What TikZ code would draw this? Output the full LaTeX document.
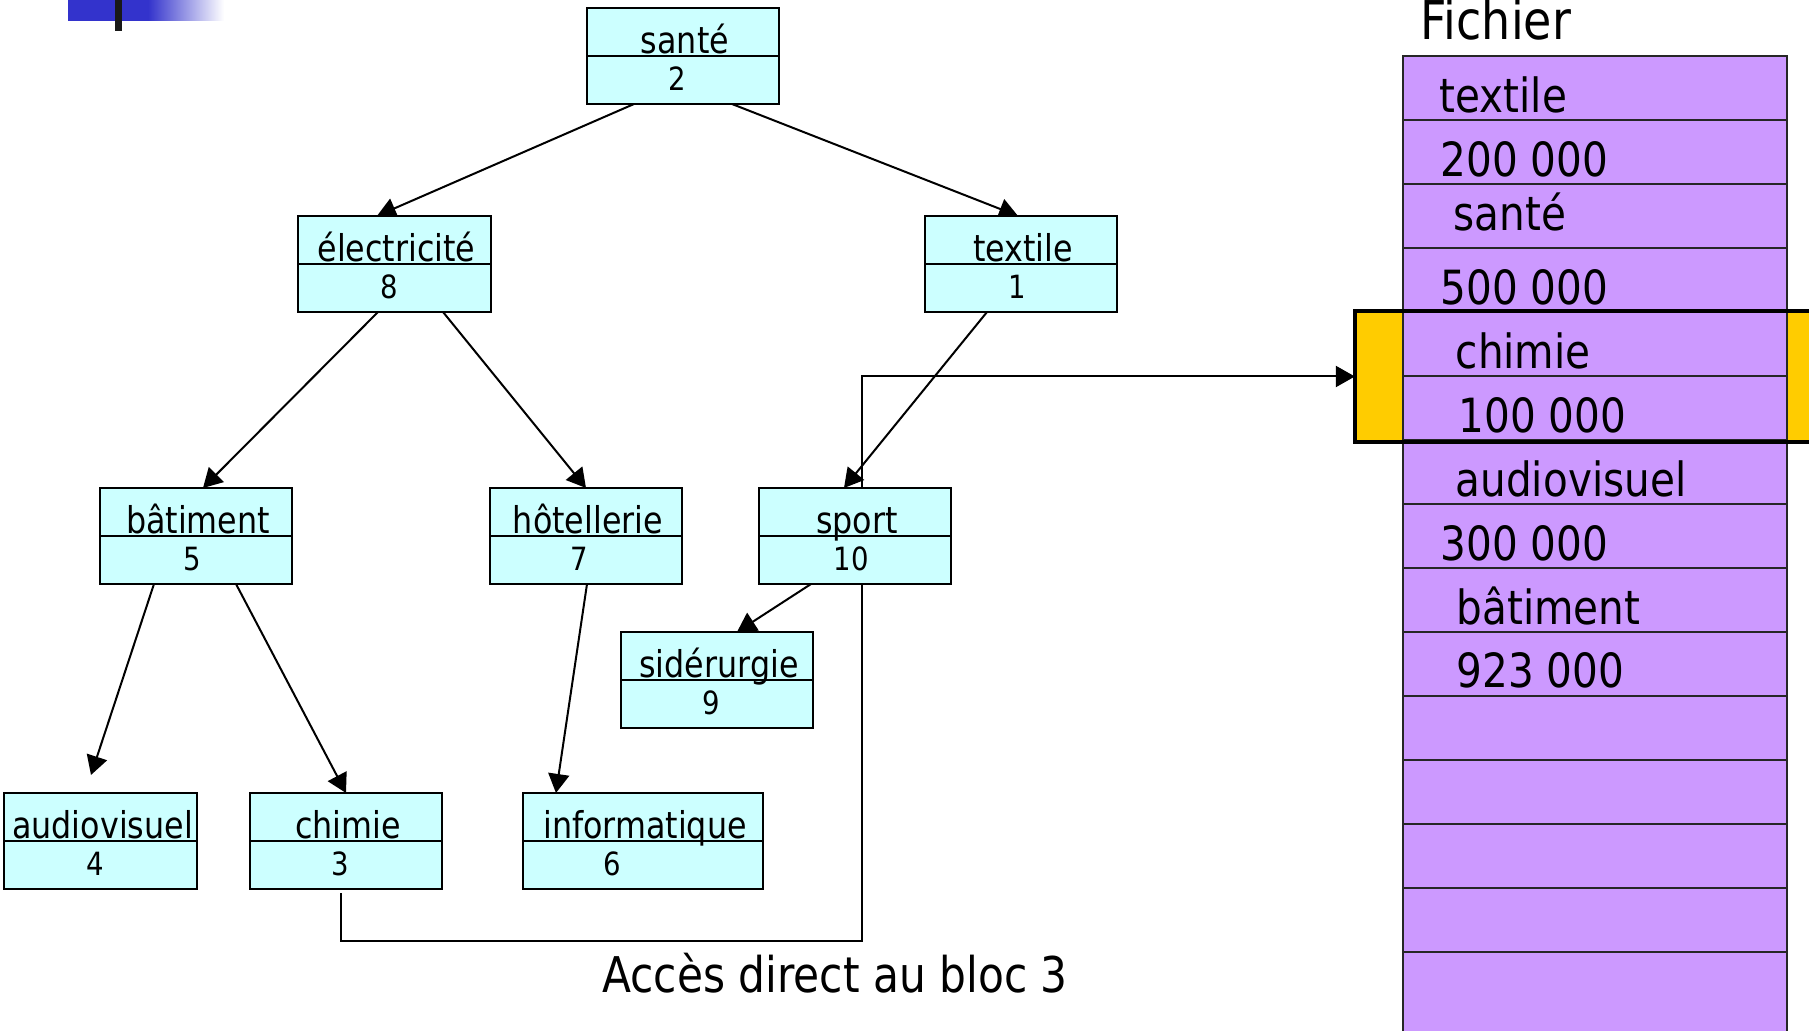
\documentclass[tikz,border=0pt]{standalone}
\usepackage{fontspec}
\setmainfont{DejaVu Sans}[FakeStretch=0.86]
\usetikzlibrary{arrows.meta,calc}
\definecolor{boxcyan}{HTML}{CCFFFF}
\definecolor{filepurple}{HTML}{CC99FF}
\definecolor{hlyellow}{HTML}{FFCC00}
\definecolor{slideblue}{HTML}{3333CC}
\pgfdeclarelayer{bg}
\pgfsetlayers{bg,main}
\tikzset{
  tbox/.style={draw=black, fill=boxcyan, line width=0.02cm, minimum width=1.92cm,
    minimum height=0.96cm, inner sep=0pt, outer sep=0pt},
  lbl/.style={font=\fontsize{10.5pt}{12pt}\selectfont, inner sep=0pt, anchor=base},
  num/.style={font=\fontsize{9.1pt}{11pt}\selectfont, inner sep=0pt, anchor=base},
  ftxt/.style={font=\fontsize{13.4pt}{15pt}\selectfont, inner sep=0pt, anchor=base west},
  arr/.style={line width=0.02cm, -{Triangle[length=0.19cm,width=0.21cm]}},
  rowline/.style={line width=0.018cm, draw=black!85},
}
% \treebox[opts]{name}{cx}{cy}{label}{number}{number x offset}
\newcommand\treebox[7][]{%
  \node[tbox,#1] (#2) at (#3,#4) {};
  \draw[line width=0.02cm] (#2.west) -- (#2.east);
  \node[lbl] (#2-l) at ([xshift=0.02cm,yshift=0.025cm]#2.center) {#5};
  \node[num] (#2-n) at ([xshift=#7,yshift=-0.345cm]#2.center) {#6};
}
\begin{document}
\begin{tikzpicture}[x=0.01cm,y=-0.01cm]
\useasboundingbox (0,0) rectangle (1809,1031);

% slide decoration
\fill[slideblue] (68,0) rectangle (148,21);
\shade[left color=slideblue, right color=white] (148,0) rectangle (224,21);
\fill[black!90] (115,0) rectangle (122,31);

% file panel
\node[fill=hlyellow, minimum width=4.75cm, minimum height=1.31cm, inner sep=0pt, outer sep=0pt] (hl) at (1592.5,376.5) {};
\fill[filepurple] (1403,56) rectangle (1787,1045);
\draw[rowline] (1403,1045) -- (1403,56) -- (1787,56) -- (1787,1045);
\foreach \yy in {120,184,...,952} \draw[rowline] (1403,\yy) -- (1787,\yy);
\draw[line width=0.04cm] (hl.north east) -- (hl.north west) -- (hl.south west) -- (hl.south east);

\node[font=\fontsize{15.2pt}{17pt}\selectfont, inner sep=0pt, anchor=base west] (fichier) at (1420,40) {Fichier};
\node[ftxt] (f1) at (1439,113) {textile};
\node[ftxt] (f2) at (1440,177) {200 000};
\node[ftxt] (f3) at (1453,231) {santé};
\node[ftxt] (f4) at (1440,305) {500 000};
\node[ftxt] (f5) at (1455,369) {chimie};
\node[ftxt] (f6) at (1458,433) {100 000};
\node[ftxt] (f7) at (1455,497) {audiovisuel};
\node[ftxt] (f8) at (1440,561) {300 000};
\node[ftxt] (f9) at (1456,625) {bâtiment};
\node[ftxt] (f10) at (1456,688) {923 000};

% tree
\treebox{sante}{683}{56}{santé}{2}{-0.055cm}
\treebox{elec}{394.5}{264}{électricité}{8}{-0.055cm}
\treebox{textile}{1021}{264}{textile}{1}{-0.04cm}
\treebox{bat}{196}{536}{bâtiment}{5}{-0.04cm}
\treebox{hotel}{586}{536}{hôtellerie}{7}{-0.07cm}
\treebox{sport}{855}{536}{sport}{10}{-0.04cm}
\treebox{sider}{717}{680}{sidérurgie}{9}{-0.055cm}
\treebox{audio}{100.5}{841}{audiovisuel}{4}{-0.055cm}
\treebox{chimie}{346}{841}{chimie}{3}{-0.055cm}
\treebox[minimum width=2.40cm]{info}{643}{841}{informatique}{6}{-0.31cm}

\node[font=\fontsize{14pt}{16pt}\selectfont, inner sep=0pt, anchor=base] (acces) at (835,992) {Accès direct au bloc 3};

\begin{pgfonlayer}{bg}
  \coordinate (bend) at (862,941);
  \draw[arr] ([xshift=-0.05cm,yshift=-0.04cm]chimie.south) |- (bend) |- (hl.west);
  \draw[arr] ([xshift=-0.49cm]sante.south) -- ([xshift=-0.175cm]elec.north);
  \draw[arr] ([xshift=0.49cm]sante.south) -- ([xshift=-0.03cm]textile.north);
  \draw[arr] ([xshift=-0.165cm]elec.south) -- ([xshift=0.07cm]bat.north);
  \draw[arr] ([xshift=0.485cm]elec.south) -- (hotel.north);
  \draw[arr] ([xshift=-0.34cm]textile.south) -- ([xshift=-0.11cm]sport.north);
  \draw[arr] ([xshift=-0.42cm]bat.south) -- ([xshift=-0.095cm,yshift=0.18cm]audio.north);
  \draw[arr] ([xshift=0.40cm]bat.south) -- (chimie.north);
  \draw[arr] ([xshift=0.01cm]hotel.south) -- ([xshift=-0.87cm]info.north);
  \draw[arr] ([xshift=-0.44cm]sport.south) -- ([xshift=0.20cm]sider.north);
\end{pgfonlayer}
\end{tikzpicture}
\end{document}
